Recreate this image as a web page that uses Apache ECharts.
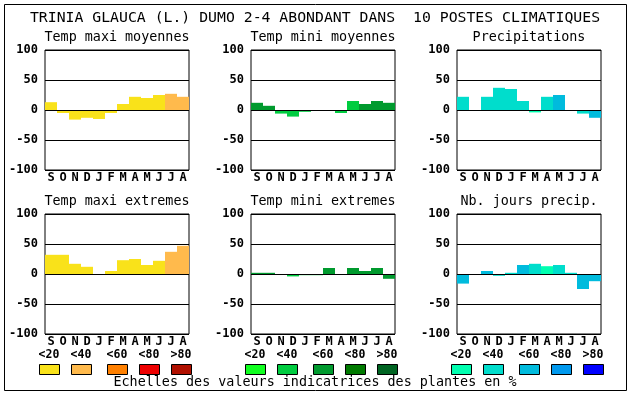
<!DOCTYPE html>
<html>
<head>
<meta charset="utf-8">
<script src="https://cdn.jsdelivr.net/npm/echarts@6/dist/echarts.min.js"></script>
<style>html,body{margin:0;padding:0;background:#fff}#c{width:630px;height:394px}</style>
</head>
<body>
<div id="c"></div>
<script>
const months = ['S','O','N','D','J','F','M','A','M','J','J','A'];
const yTicks = [-100, -50, 0, 50, 100];
const mainTitle = 'TRINIA GLAUCA (L.) DUMO 2-4 ABONDANT DANS  10 POSTES CLIMATIQUES';
const footer = 'Echelles des valeurs indicatrices des plantes en %';
const scaleLabels = ['<20','<40','<60','<80','>80'];

const panelTitles = ['Temp maxi moyennes','Temp mini moyennes','Precipitations',
                     'Temp maxi extremes','Temp mini extremes','Nb. jours precip.'];

// values per panel
const tmaxMoy   = [13, -5, -16, -13, -15, -5, 10, 22, 20, 25, 27, 22];
const tminMoy   = [12, 7, -6, -11, -3, 0, 0, -5, 15, 10, 15, 12];
const precip    = [22, 0, 22, 37, 35, 15, -4, 22, 25, 0, -6, -13];
const tmaxExt   = [32, 32, 17, 12, 0, 5, 23, 25, 15, 22, 37, 47];
const tminExt   = [2, 2, 0, -4, -2, -2, 10, 0, 10, 5, 10, -8];
const nbJours   = [-16, 0, 5, -3, 2, 15, 17, 13, 15, 2, -25, -12];

// colour class (0:<20, 1:<40, 2:<60, 3:<80, 4:>80) per bar
const tmaxMoyCls = [0,0,0,0,0,0,0,0,0,0,1,1];
const tminMoyCls = [2,2,1,1,1,1,1,1,1,2,2,2];
const precipCls  = [1,1,1,1,1,1,0,1,2,1,1,2];
const tmaxExtCls = [0,0,0,0,0,0,0,0,0,0,1,1];
const tminExtCls = [2,2,1,1,1,1,2,2,2,2,2,2];
const nbJoursCls = [2,2,2,1,1,2,1,0,1,1,2,2];

const warmScale  = ['#F9E21A','#FFBA4C','#FF8000','#EE0000','#B01000'];
const greenScale = ['#10FF20','#00CC40','#009A2E','#007A00','#006422'];
const blueScale  = ['#00FFB0','#00DDCC','#00BBDD','#0099EE','#0000FF'];

const panels = [
  {vals: tmaxMoy, cls: tmaxMoyCls, pal: warmScale},
  {vals: tminMoy, cls: tminMoyCls, pal: greenScale},
  {vals: precip,  cls: precipCls,  pal: blueScale},
  {vals: tmaxExt, cls: tmaxExtCls, pal: warmScale},
  {vals: tminExt, cls: tminExtCls, pal: greenScale},
  {vals: nbJours, cls: nbJoursCls, pal: blueScale}
];

const colLeft = [45, 251, 457];
const rowTop = [50, 214];
const plotW = 144, plotH = 120;
const mono = '"DejaVu Sans Mono", "Liberation Mono", monospace';

const grids = [], xAxes = [], yAxes = [], series = [], graphics = [];
panels.forEach((p, i) => {
  const col = i % 3, row = Math.floor(i / 3);
  grids.push({left: colLeft[col], top: rowTop[row], width: plotW, height: plotH,
    show: true, borderColor: '#000', borderWidth: 1, backgroundColor: '#fff'});
  xAxes.push({type: 'category', gridIndex: i, data: months, position: 'bottom',
    axisLine: {show: false}, axisTick: {show: false},
    axisLabel: {interval: 0, color: '#000', fontFamily: mono, fontWeight: 'bold', fontSize: 12, margin: 2}});
  yAxes.push({type: 'value', gridIndex: i, min: yTicks[0], max: yTicks[yTicks.length-1], interval: 50,
    axisLine: {show: false}, axisTick: {show: false},
    splitLine: {show: true, lineStyle: {color: '#000', width: 1}},
    axisLabel: {color: '#000', fontFamily: mono, fontWeight: 'bold', fontSize: 12, margin: 7}});
  series.push({type: 'bar', xAxisIndex: i, yAxisIndex: i, barWidth: '100%', barCategoryGap: '0%',
    animation: false,
    data: p.vals.map((v, k) => ({value: v, itemStyle: {color: p.pal[p.cls[k]]}})),
    markLine: {silent: true, symbol: 'none', label: {show: false}, animation: false,
      lineStyle: {color: '#000', type: 'solid', width: 1}, data: [{yAxis: 0}]}
  });
  graphics.push({type: 'text', x: colLeft[col] + plotW / 2, y: row === 0 ? 38 : 202,
    style: {text: panelTitles[i], font: '13.4px ' + mono, fill: '#000', align: 'center', verticalAlign: 'middle'}});
});

// frame
graphics.push({type: 'rect', shape: {x: 4.5, y: 4.5, width: 622, height: 386},
  style: {fill: null, stroke: '#000', lineWidth: 1}, z: -1});
graphics.push({type: 'text', x: 315, y: 18,
  style: {text: mainTitle, font: '14.8px ' + mono, fill: '#000', align: 'center', verticalAlign: 'middle'}});
graphics.push({type: 'text', x: 315, y: 383,
  style: {text: footer, font: '13.4px ' + mono, fill: '#000', align: 'center', verticalAlign: 'middle'}});

// colour scale legends
const legendStarts = [[39,71,107,139,171],[245,277,313,345,377],[451,483,519,551,583]];
const palettes = [warmScale, greenScale, blueScale];
legendStarts.forEach((xs, g) => {
  xs.forEach((x, k) => {
    graphics.push({type: 'rect', shape: {x: x + 0.5, y: 364.5, width: 20, height: 10},
      style: {fill: palettes[g][k], stroke: '#000', lineWidth: 1}});
    graphics.push({type: 'text', x: x + 10, y: 355,
      style: {text: scaleLabels[k], font: 'bold 11.5px ' + mono, fill: '#000', align: 'center', verticalAlign: 'middle'}});
  });
});

const chart = echarts.init(document.getElementById('c'), null, {renderer: 'canvas'});
chart.setOption({animation: false, backgroundColor: '#fff', grid: grids, xAxis: xAxes, yAxis: yAxes,
  series: series, graphic: graphics});
</script>
</body>
</html>
